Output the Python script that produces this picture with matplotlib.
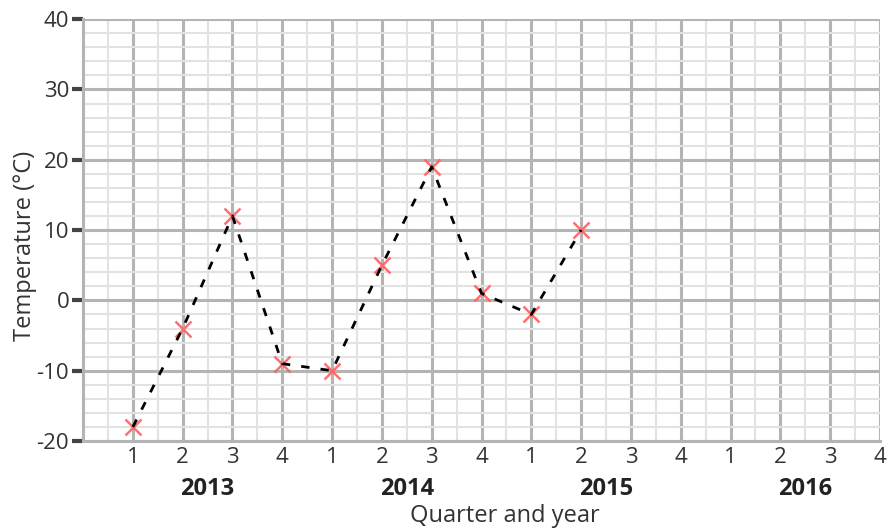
import numpy as np
import matplotlib.pyplot as plt
from matplotlib.ticker import MultipleLocator
import matplotlib.transforms as mtransforms

plt.rcParams['font.family'] = ['Open Sans', 'DejaVu Sans']
plt.rcParams['axes.unicode_minus'] = False

# data
quarter_pos = [1, 2, 3, 4, 5, 6, 7, 8, 9, 10]
temperature = [-18, -4, 12, -9, -10, 5, 19, 1, -2, 10]
tick_pos = list(range(1, 17))
tick_labels = ['1', '2', '3', '4'] * 4
years = ['2013', '2014', '2015', '2016']
year_pos = [2.5, 6.5, 10.5, 14.5]

fig = plt.figure(figsize=(8.88, 5.32), dpi=100)
ax = fig.add_axes([0.0935, 0.171, 0.8975, 0.793])

ax.set_xlim(0, 16)
ax.set_ylim(-20, 40)

ax.xaxis.set_major_locator(MultipleLocator(1))
ax.xaxis.set_minor_locator(MultipleLocator(0.5))
ax.yaxis.set_major_locator(MultipleLocator(10))
ax.yaxis.set_minor_locator(MultipleLocator(2))

ax.grid(which='minor', color='#e2e2e2', linewidth=1.5)
ax.grid(which='major', color='#b4b4b4', linewidth=2.2)
ax.set_axisbelow(True)

ax.set_xticks(tick_pos)
ax.set_xticklabels(tick_labels)
ax.tick_params(axis='x', which='both', length=0, labelsize=16, colors='#333333', pad=4)
ax.tick_params(axis='y', which='major', length=8, width=3, color='#444444', labelsize=16,
               labelcolor='#333333', pad=2)
ax.tick_params(axis='y', which='minor', length=0)

for s in ['top', 'right']:
    ax.spines[s].set_visible(False)
ax.spines['left'].set_color('#b4b4b4')
ax.spines['left'].set_linewidth(2.2)
ax.spines['bottom'].set_color('#b4b4b4')
ax.spines['bottom'].set_linewidth(2.2)

ax.plot(quarter_pos, temperature, linestyle='none', marker='x', color='#ff6060',
        markersize=11, markeredgewidth=1.8, alpha=0.9, zorder=3, clip_on=False)
ax.plot(quarter_pos, temperature, linestyle=(0, (3, 4)), color='black', linewidth=2, zorder=4)

trans = mtransforms.blended_transform_factory(ax.transData, ax.transAxes)
for yr, xp in zip(years, year_pos):
    ax.text(xp, -0.114, yr, transform=trans, ha='center', va='center',
            fontsize=17, fontweight='bold', color='#222222')

ax.text(0.529, -0.178, 'Quarter and year', transform=ax.transAxes, ha='center', va='center',
        fontsize=17, color='#333333')
ax.set_ylabel('Temperature (°C)', fontsize=17, color='#333333')
ax.yaxis.set_label_coords(-0.058, 0.462)

fig.savefig('out.png', dpi=100)
